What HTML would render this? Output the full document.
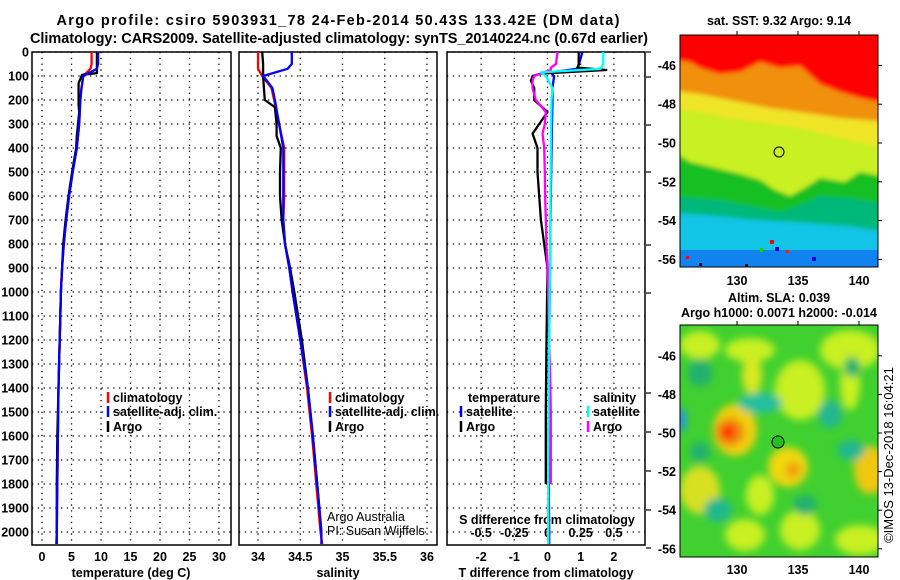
<!DOCTYPE html>
<html><head><meta charset="utf-8">
<style>
html,body{margin:0;padding:0;background:#fff;}
svg{display:block;font-family:"Liberation Sans",Arial,sans-serif;}
.b{font-weight:bold;font-size:12.5px;fill:#000;}
.t{font-weight:bold;font-size:14.5px;fill:#000;}
</style></head>
<body>
<svg id="chart" width="900" height="580" viewBox="0 0 900 580" xmlns="http://www.w3.org/2000/svg">
<defs>
<filter id="blur2" x="-10%" y="-10%" width="120%" height="120%"><feGaussianBlur stdDeviation="2"/></filter>
<filter id="blur4" x="-20%" y="-20%" width="140%" height="140%"><feGaussianBlur stdDeviation="4"/></filter>
<clipPath id="clipm1"><rect x="680" y="35" width="198" height="232"/></clipPath>
<clipPath id="clipm2"><rect x="680" y="325" width="198" height="232"/></clipPath>
</defs>
<text class="t" x="338" y="25" text-anchor="middle" textLength="563">Argo profile: csiro 5903931_78 24-Feb-2014 50.43S 133.42E (DM data)</text>
<text class="t" x="339" y="43" text-anchor="middle" textLength="618">Climatology: CARS2009. Satellite-adjusted climatology: synTS_20140224.nc (0.67d earlier)</text>

<g id="plots"></g>

<!-- SST map -->
<g clip-path="url(#clipm1)">
<rect x="680" y="35" width="198" height="232" fill="#12c4e6"/>
<g filter="url(#blur2)">
<path d="M670,25 L890,25 L890,232 L850,226 L800,222 L760,220 L720,216 L670,212 Z" fill="#00b87a"/>
<path d="M670,25 L890,25 L890,205 L850,198 L820,196 L800,205 L780,212 L750,206 L720,200 L670,196 Z" fill="#12c020"/>
<path d="M670,25 L890,25 L890,178 L860,172 L845,182 L820,178 L805,188 L790,196 L775,190 L760,180 L740,174 L715,168 L690,162 L670,150 Z" fill="#c8f020"/>
<path d="M670,25 L890,25 L890,150 L850,140 L800,128 L760,122 L730,118 L700,112 L670,108 Z" fill="#f0e428"/>
<path d="M670,25 L890,25 L890,122 L840,118 L800,112 L770,108 L740,102 L700,94 L670,90 Z" fill="#f09010"/>
<path d="M670,25 L890,25 L890,104 L860,98 L840,92 L820,84 L800,66 L780,68 L760,62 L740,72 L720,74 L700,68 L690,62 L670,60 Z" fill="#ff0000"/>
</g>
<rect x="680" y="250" width="198" height="17" fill="#1078f0" opacity="0.85"/>
<rect x="770" y="240" width="4" height="4" fill="#ff0000"/><rect x="775" y="247" width="4" height="4" fill="#0000ff"/>
<rect x="686" y="256" width="3" height="3" fill="#ff0000"/><rect x="745" y="264" width="3" height="3" fill="#000"/>
<rect x="785" y="250" width="4" height="3" fill="#ff2000"/><rect x="812" y="257" width="4" height="4" fill="#0000e0"/>
<rect x="760" y="248" width="3" height="4" fill="#20d000"/><rect x="699" y="263" width="3" height="3" fill="#000"/>
</g>
<rect x="680" y="35" width="198" height="232" fill="none" stroke="#000"/>
<circle cx="779" cy="152" r="5" fill="none" stroke="#000"/>

<!-- SLA map -->
<g clip-path="url(#clipm2)">
<rect x="680" y="325" width="198" height="232" fill="#40d030"/>
<g filter="url(#blur4)">
<ellipse cx="700" cy="345" rx="20" ry="14" fill="#c8f020"/>
<ellipse cx="750" cy="350" rx="25" ry="12" fill="#c8f020"/>
<ellipse cx="850" cy="350" rx="30" ry="20" fill="#c8f020"/>
<ellipse cx="752" cy="375" rx="10" ry="20" fill="#d8e820"/>
<ellipse cx="800" cy="390" rx="25" ry="30" fill="#c8f020"/>
<ellipse cx="850" cy="385" rx="10" ry="25" fill="#c8f020"/>
<ellipse cx="735" cy="430" rx="22" ry="26" fill="#f0d010"/>
<ellipse cx="730" cy="432" rx="14" ry="14" fill="#f08010"/>
<ellipse cx="728" cy="432" rx="6" ry="6" fill="#ff0000"/>
<ellipse cx="788" cy="467" rx="20" ry="20" fill="#f0d810"/>
<ellipse cx="793" cy="470" rx="8" ry="8" fill="#f0a010"/>
<ellipse cx="870" cy="470" rx="16" ry="24" fill="#f0c810"/>
<ellipse cx="700" cy="490" rx="20" ry="24" fill="#d8e020"/>
<ellipse cx="760" cy="495" rx="14" ry="20" fill="#c8f020"/>
<ellipse cx="745" cy="535" rx="20" ry="16" fill="#c8f020"/>
<ellipse cx="800" cy="530" rx="20" ry="20" fill="#c8f020"/>
<ellipse cx="860" cy="540" rx="25" ry="15" fill="#c8f020"/>
<ellipse cx="760" cy="403" rx="22" ry="10" fill="#20c0a0"/>
<ellipse cx="700" cy="373" rx="12" ry="14" fill="#20b070"/>
<ellipse cx="830" cy="414" rx="12" ry="14" fill="#20b890"/>
<ellipse cx="851" cy="450" rx="14" ry="10" fill="#20b890"/>
<ellipse cx="718" cy="510" rx="14" ry="12" fill="#20b890"/>
<ellipse cx="700" cy="452" rx="10" ry="10" fill="#20b070"/>
<ellipse cx="852" cy="367" rx="8" ry="10" fill="#20b070"/>
<ellipse cx="805" cy="505" rx="12" ry="10" fill="#20b070"/>
<ellipse cx="681" cy="420" rx="5" ry="12" fill="#2090f0"/>
</g>
</g>
<rect x="680" y="325" width="198" height="232" fill="none" stroke="#000"/>
<circle cx="778" cy="442" r="6" fill="#20c020" stroke="#000"/>

<text class="b" x="779" y="25" text-anchor="middle">sat. SST: 9.32 Argo: 9.14</text>
<text class="b" x="779" y="302" text-anchor="middle">Altim. SLA: 0.039</text>
<text class="b" x="779" y="317" text-anchor="middle">Argo h1000: 0.0071 h2000: -0.014</text>
<text x="893" y="455" font-size="13" text-anchor="middle" transform="rotate(-90 893 455)">©IMOS 13-Dec-2018 16:04:21</text>
<text x="327" y="521" font-size="12.5">Argo Australia</text>
<text x="327" y="535" font-size="12.5">PI: Susan Wijffels</text>
</svg>
<script>
// ---- data ----
const depthTicks = [0,100,200,300,400,500,600,700,800,900,1000,1100,1200,1300,1400,1500,1600,1700,1800,1900,2000];
const tempTicks = [0,5,10,15,20,25,30];
const salTicks = [34,34.5,35,35.5,36];
const salTickLabels = ["34","34.5","35","35.5","36"];
const tdiffTicks = [-2,-1,0,1,2];
const sdiffTicks = [-0.5,-0.25,0,0.25,0.5];
const sdiffTickLabels = ["-0.5","-0.25","0","0.25","0.5"];

const climDepths = [0,50,70,100,150,200,300,400,500,600,700,800,900,1000,1200,1400,1600,1800,2000,2050];
const climTemp = [8.4,8.4,8.2,7.0,6.7,6.5,6.3,5.9,5.2,4.6,4.1,3.7,3.4,3.2,3.0,2.8,2.7,2.6,2.5,2.4];
const satTemp = [9.5,9.5,9.3,7.0,6.7,6.5,6.3,5.9,5.2,4.6,4.1,3.7,3.4,3.2,3.0,2.8,2.7,2.6,2.5,2.5];
const climSal = [34.0,34.0,34.0,34.05,34.16,34.19,34.25,34.31,34.31,34.31,34.3,34.32,34.37,34.41,34.5,34.58,34.64,34.69,34.74,34.76];
const satSal = [34.40,34.40,34.35,34.06,34.17,34.20,34.25,34.30,34.30,34.30,34.3,34.32,34.37,34.41,34.5,34.59,34.65,34.70,34.75,34.75];

const argoTDepths = [0,50,88,95,130,220,250,350,400,500,600,700,800,900,1000,1200,1400,1600,1800,2000];
const argoTemp = [9.3,9.3,9.3,6.8,6.2,6.2,6.3,5.9,5.8,5.1,4.5,4.0,3.6,3.4,3.2,3.0,2.8,2.6,2.5,2.5];
const argoSDepths = [0,50,100,150,200,230,300,350,400,500,600,700,800,900,1000,1200,1400,1600,1800,2000];
const argoSal = [34.05,34.06,34.06,34.07,34.08,34.2,34.22,34.22,34.27,34.26,34.26,34.28,34.32,34.38,34.43,34.52,34.59,34.65,34.70,34.75];

const argoDiffDepths = [0,50,65,75,90,100,120,150,200,250,300,340,400,500,600,700,800,900,1200,1500,1800];
const argoTDiff = [0.94,0.94,0.9,1.77,-0.2,-0.45,-0.5,-0.4,-0.4,0,-0.25,-0.45,-0.3,-0.3,-0.25,-0.2,-0.1,0,-0.03,-0.05,-0.05];
const argoSDiff = [0.075,0.063,0.025,0.025,-0.05,-0.1,-0.113,-0.113,-0.088,-0.013,-0.02,-0.038,-0.025,-0.02,-0.018,-0.013,-0.008,0,0.013,0.025,0.025];
const satDiffDepths = [0,50,70,85,100,150,200,400,800,1200,1600,2000,2050];
const satTDiff = [1.05,0.95,0.9,0.1,0.2,0.15,0.15,0.12,0.08,0.05,0.03,0.05,0.05];
const satSDiff = [0.42,0.42,0.4,-0.05,-0.013,0.038,0.03,0.025,0.02,0.013,0.005,0.005,0.005];

const latTicks = [-46,-48,-50,-52,-54,-56];
const lonTicks = [130,135,140];

// ---- axes ----
const NS = "http://www.w3.org/2000/svg";
const Y0 = 52, Y1 = 545;
const yD = d => Y0 + d * 0.24;
const xT = t => 42 + t * 5.9;
const xS = s => 258 + (s - 34) * 84.5;
const xDT = v => 547.5 + v * 33.2;
const xDS = v => xDT(v * 4);
const panels = [[32,231],[239,437],[447,645]];
const xLon = lon => 737 + (lon - 130) * 12.2;
const yLat1 = lat => 143 + (-50 - lat) * 19.4;
const yLat2 = lat => 433 + (-50 - lat) * 19.3;

const root = document.getElementById('plots');
function mk(tag, attrs, parent) {
  const e = document.createElementNS(NS, tag);
  for (const k in attrs) e.setAttribute(k, attrs[k]);
  (parent || root).appendChild(e);
  return e;
}
function txt(x, y, s, anchor, cls) {
  const e = mk('text', {x: x, y: y, 'text-anchor': anchor || 'middle', 'class': cls || 'b'});
  e.textContent = s;
  return e;
}

panels.forEach((p, i) => {
  depthTicks.forEach(d => {
    const l = mk('line', {x1: p[0], x2: p[1], y1: yD(d), y2: yD(d), stroke: '#000', 'stroke-dasharray': '1.3,4.5', 'stroke-width': 1.3});
    
    
  });
});
function vgrid(ticks, fx, p, name) {
  ticks.forEach(v => {
    const l = mk('line', {x1: fx(v), x2: fx(v), y1: Y0, y2: Y1, stroke: '#000', 'stroke-dasharray': '1.3,4.5', 'stroke-width': 1.3});
    
    
  });
}
vgrid(tempTicks, xT, panels[0], 'temperature-gridline');
vgrid(salTicks, xS, panels[1], 'salinity-gridline');
vgrid(tdiffTicks, xDT, panels[2], 'difference-gridline');

panels.forEach((p, i) => {
  const r = mk('rect', {x: p[0], y: Y0, width: p[1] - p[0], height: Y1 - Y0, fill: 'none', stroke: '#000', 'stroke-width': 1.5});
  
  
});

depthTicks.forEach(d => {
  const t = txt(29, yD(d) + 4.5, String(d), 'end');
  
  
});
[52,77,125,172,245,293,393,432,471,510,548].forEach(y => {
  const l = mk('line', {x1: 646, x2: 651, y1: y, y2: y, stroke: '#000', 'stroke-width': 1.2});
  
  
});

tempTicks.forEach(v => {
  const t = txt(xT(v), 561, String(v));
  
  
});
salTicks.forEach((v, i) => {
  const t = txt(xS(v), 561, salTickLabels[i]);
  
  
});
tdiffTicks.forEach(v => {
  const t = txt(xDT(v), 561, String(v));
  
  
});
sdiffTicks.forEach((v, i) => {
  const t = txt(xDS(v), 537, sdiffTickLabels[i]);
  
  
});
let a;
a = txt(131, 577, 'temperature (deg C)');


a = txt(338, 577, 'salinity');


a = txt(546, 577, 'T difference from climatology');


a = txt(547, 524, 'S difference from climatology');



function series(depths, vals, fx, color, name) {
  const pts = depths.map((d, i) => fx(vals[i]).toFixed(1) + ',' + yD(d).toFixed(1)).join(' ');
  const l = mk('polyline', {points: pts, fill: 'none', stroke: color, 'stroke-width': 2.3, 'stroke-linejoin': 'round'});
  
  
}
series(climDepths, climTemp, xT, '#ff0000', 'temperature-climatology-line');
series(argoTDepths, argoTemp, xT, '#000000', 'temperature-argo-line');
series(climDepths, satTemp, xT, '#0000ff', 'temperature-satellite-line');
series(climDepths, climSal, xS, '#ff0000', 'salinity-climatology-line');
series(argoSDepths, argoSal, xS, '#000000', 'salinity-argo-line');
series(climDepths, satSal, xS, '#0000ff', 'salinity-satellite-line');
series(satDiffDepths, satTDiff, xDT, '#0000ff', 't-diff-satellite-line');
series(argoDiffDepths, argoTDiff, xDT, '#000000', 't-diff-argo-line');
series(argoDiffDepths, argoSDiff, xDS, '#ff00ff', 's-diff-argo-line');
series(satDiffDepths, satSDiff, xDS, '#00ffff', 's-diff-satellite-line');

function legend(x, y, color, label, name) {
  const m = mk('line', {x1: x, x2: x, y1: y - 10, y2: y + 1, stroke: color, 'stroke-width': 2.5});
  
  
  const t = txt(x + 5, y, label, 'start');
  
  
}
legend(108, 402, '#ff0000', 'climatology', 'legend-temp-climatology');
legend(108, 416, '#0000ff', 'satellite-adj. clim.', 'legend-temp-satellite');
legend(108, 431, '#000000', 'Argo', 'legend-temp-argo');
legend(330, 402, '#ff0000', 'climatology', 'legend-sal-climatology');
legend(330, 416, '#0000ff', 'satellite-adj. clim.', 'legend-sal-satellite');
legend(330, 431, '#000000', 'Argo', 'legend-sal-argo');
a = txt(468, 402, 'temperature', 'start');


a = txt(593, 402, 'salinity', 'start');


legend(461, 416, '#0000ff', 'satellite', 'legend-tdiff-satellite');
legend(461, 431, '#000000', 'Argo', 'legend-tdiff-argo');
legend(588, 416, '#00ffff', 'satellite', 'legend-sdiff-satellite');
legend(588, 431, '#ff00ff', 'Argo', 'legend-sdiff-argo');

latTicks.forEach(v => {
  let t = txt(676, yLat1(v) + 4.5, String(v), 'end');
  
  
  t = txt(676, yLat2(v) + 4.5, String(v), 'end');
  
  
  let l = mk('line', {x1: 878, x2: 882, y1: yLat1(v), y2: yLat1(v), stroke: '#000'});
  
  
  l = mk('line', {x1: 878, x2: 882, y1: yLat2(v), y2: yLat2(v), stroke: '#000'});
  
  
});
lonTicks.forEach(v => {
  let t = txt(xLon(v), 285, String(v));
  
  
  t = txt(xLon(v), 574, String(v));
  
  
  let l = mk('line', {x1: xLon(v), x2: xLon(v), y1: 31, y2: 35, stroke: '#000'});
  
  
  l = mk('line', {x1: xLon(v), x2: xLon(v), y1: 321, y2: 325, stroke: '#000'});
  
  
});
</script>
</body></html>
